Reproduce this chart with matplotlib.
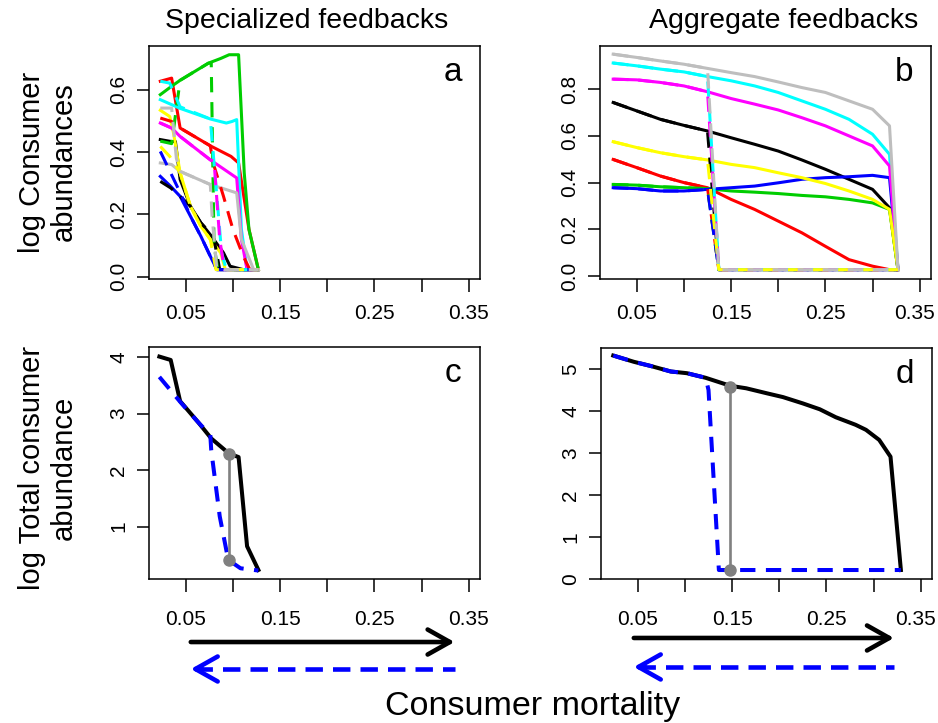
import matplotlib
matplotlib.use("Agg")
import matplotlib.pyplot as plt
import matplotlib.transforms as mtransforms
from matplotlib.lines import Line2D

plt.rcParams.update({
    "font.family": ["Liberation Sans", "DejaVu Sans"],
    "axes.linewidth": 1.1,
})

COL = {"black": "#000000", "red": "#FF0000", "green": "#00CD00", "blue": "#0000FF",
       "cyan": "#00FFFF", "magenta": "#FF00FF", "yellow": "#FFFF00", "gray": "#BEBEBE"}
ORDER = ["black", "red", "green", "blue", "cyan", "magenta", "yellow", "gray"]

# ---- panel a: specialized feedbacks, per-consumer abundances (solid = forward, dashed = backward)
a_black_x = [0.023, 0.034, 0.039, 0.044, 0.055, 0.066, 0.076, 0.090, 0.097, 0.111, 0.127]
a_black_y = [0.440, 0.434, 0.434, 0.312, 0.226, 0.173, 0.135, 0.077, 0.034, 0.023, 0.023]
a_black_dx = [0.023, 0.034, 0.044, 0.055, 0.066, 0.076, 0.080, 0.086, 0.127]
a_black_dy = [0.306, 0.285, 0.258, 0.226, 0.173, 0.141, 0.120, 0.023, 0.023]
a_red_x = [0.023, 0.035, 0.044, 0.076, 0.098, 0.106, 0.117, 0.127]
a_red_y = [0.627, 0.637, 0.477, 0.420, 0.386, 0.365, 0.152, 0.023]
a_red_dx = [0.023, 0.035, 0.044, 0.076, 0.079, 0.090, 0.100, 0.111, 0.118, 0.127]
a_red_dy = [0.509, 0.498, 0.477, 0.420, 0.365, 0.258, 0.152, 0.066, 0.023, 0.023]
a_green_x = [0.023, 0.035, 0.044, 0.074, 0.087, 0.096, 0.106, 0.112, 0.117, 0.127]
a_green_y = [0.584, 0.611, 0.630, 0.685, 0.700, 0.712, 0.712, 0.333, 0.152, 0.023]
a_green_dx = [0.023, 0.035, 0.044, 0.074, 0.077, 0.080, 0.084, 0.127]
a_green_dy = [0.435, 0.427, 0.630, 0.685, 0.685, 0.100, 0.023, 0.023]
a_blue_x = [0.023, 0.034, 0.044, 0.055, 0.066, 0.076, 0.083, 0.127]
a_blue_y = [0.322, 0.290, 0.258, 0.194, 0.130, 0.066, 0.023, 0.023]
a_blue_dx = [0.023, 0.034, 0.044, 0.055, 0.066, 0.076, 0.083, 0.127]
a_blue_dy = [0.402, 0.333, 0.270, 0.194, 0.130, 0.066, 0.023, 0.023]
a_cyan_x = [0.023, 0.044, 0.076, 0.093, 0.099, 0.104, 0.109, 0.115, 0.127]
a_cyan_y = [0.568, 0.540, 0.506, 0.493, 0.498, 0.504, 0.152, 0.023, 0.023]
a_cyan_dx = [0.023, 0.033, 0.044, 0.076, 0.088, 0.093, 0.127]
a_cyan_dy = [0.627, 0.621, 0.545, 0.506, 0.077, 0.023, 0.023]
a_magenta_x = [0.023, 0.035, 0.044, 0.076, 0.104, 0.109, 0.115, 0.127]
a_magenta_y = [0.493, 0.477, 0.450, 0.375, 0.317, 0.120, 0.023, 0.023]
a_magenta_dx = [0.023, 0.035, 0.044, 0.076, 0.080, 0.086, 0.091, 0.127]
a_magenta_dy = [0.493, 0.477, 0.450, 0.375, 0.370, 0.120, 0.023, 0.023]
a_yellow_x = [0.023, 0.033, 0.037, 0.044, 0.055, 0.066, 0.076, 0.087, 0.092, 0.127]
a_yellow_y = [0.534, 0.514, 0.461, 0.333, 0.226, 0.162, 0.120, 0.077, 0.023, 0.023]
a_yellow_dx = [0.023, 0.033, 0.044, 0.055, 0.066, 0.076, 0.082, 0.127]
a_yellow_dy = [0.418, 0.386, 0.333, 0.226, 0.162, 0.120, 0.023, 0.023]
a_gray_x = [0.023, 0.035, 0.044, 0.076, 0.104, 0.109, 0.122, 0.127]
a_gray_y = [0.365, 0.360, 0.338, 0.296, 0.269, 0.120, 0.023, 0.023]
a_gray_dx = [0.023, 0.035, 0.040, 0.044, 0.076, 0.078, 0.083, 0.127]
a_gray_dy = [0.541, 0.541, 0.380, 0.338, 0.296, 0.190, 0.023, 0.023]

# ---- panel b: aggregate feedbacks, forward path on a shared mortality grid
b_x = [0.025, 0.05, 0.075, 0.10, 0.125, 0.15, 0.175, 0.20, 0.225, 0.25, 0.275, 0.30, 0.318, 0.327]
b_black = [0.743, 0.707, 0.671, 0.645, 0.621, 0.592, 0.564, 0.535, 0.497, 0.457, 0.414, 0.371, 0.292, 0.027]
b_red = [0.499, 0.464, 0.428, 0.400, 0.378, 0.328, 0.285, 0.235, 0.185, 0.127, 0.070, 0.042, 0.027, 0.027]
b_green = [0.392, 0.389, 0.382, 0.378, 0.374, 0.364, 0.359, 0.353, 0.345, 0.339, 0.328, 0.313, 0.285, 0.027]
b_blue = [0.378, 0.374, 0.364, 0.364, 0.371, 0.378, 0.385, 0.399, 0.414, 0.421, 0.425, 0.431, 0.421, 0.027]
b_cyan = [0.912, 0.900, 0.886, 0.874, 0.854, 0.836, 0.814, 0.786, 0.750, 0.714, 0.671, 0.607, 0.521, 0.027]
b_magenta = [0.843, 0.840, 0.829, 0.814, 0.789, 0.760, 0.736, 0.711, 0.678, 0.643, 0.600, 0.557, 0.471, 0.027]
b_yellow = [0.575, 0.550, 0.528, 0.511, 0.497, 0.478, 0.464, 0.442, 0.421, 0.396, 0.364, 0.328, 0.285, 0.027]
b_gray = [0.950, 0.936, 0.921, 0.907, 0.889, 0.871, 0.854, 0.831, 0.807, 0.786, 0.750, 0.714, 0.643, 0.027]
# backward path: same as forward up to the tipping point, then collapse
b_tip = 0.125
b_collapse_x = [0.137, 0.327]
b_floor = 0.027

# ---- panel c: specialized, total abundance
c_fwd_x = [0.022, 0.034, 0.044, 0.063, 0.077, 0.096, 0.106, 0.115, 0.127]
c_fwd_y = [4.01, 3.95, 3.22, 2.85, 2.56, 2.29, 2.23, 0.65, 0.23]
c_bwd_x = [0.022, 0.044, 0.063, 0.076, 0.077, 0.086, 0.095, 0.108, 0.127]
c_bwd_y = [3.65, 3.21, 2.85, 2.62, 2.35, 1.18, 0.41, 0.26, 0.22]
c_gap_x = 0.096
c_gap_y = [2.29, 0.41]

# ---- panel d: aggregate, total abundance
d_fwd_x = [0.024, 0.046, 0.064, 0.085, 0.102, 0.122, 0.148, 0.165, 0.187, 0.204,
           0.225, 0.243, 0.260, 0.281, 0.292, 0.306, 0.318, 0.329]
d_fwd_y = [5.32, 5.17, 5.07, 4.94, 4.90, 4.79, 4.60, 4.54, 4.42, 4.33,
           4.18, 4.04, 3.85, 3.67, 3.55, 3.31, 2.91, 0.21]
d_bwd_x = [0.024, 0.046, 0.064, 0.085, 0.102, 0.122, 0.125, 0.136, 0.329]
d_bwd_y = [5.32, 5.17, 5.07, 4.94, 4.90, 4.79, 4.50, 0.21, 0.21]
d_gap_x = 0.148
d_gap_y = [4.58, 0.21]

XTICKS = [0.05, 0.10, 0.15, 0.20, 0.25, 0.30, 0.35]
XTICKLABELS = ["0.05", "", "0.15", "", "0.25", "", "0.35"]
XLIM = (0.011, 0.362)

W, H = 938, 723
fig = plt.figure(figsize=(W / 100, H / 100), dpi=100)


def box(l, t, r, b):
    return [l / W, 1 - b / H, (r - l) / W, (b - t) / H]


axa = fig.add_axes(box(149, 46, 480, 279))
axb = fig.add_axes(box(600, 46, 931, 279))
axc = fig.add_axes(box(149, 347, 480, 579))
axd = fig.add_axes(box(601, 348, 932, 579))


def style(ax, ylim, yticks, ylabels, letter, xpad=9, nudge_last=False):
    ax.set_xlim(XLIM)
    ax.set_ylim(ylim)
    ax.set_xticks(XTICKS)
    ax.set_xticklabels(XTICKLABELS)
    ax.set_yticks(yticks)
    ax.set_yticklabels(ylabels, rotation=90, va="center")
    ax.tick_params(length=9, width=1.1, labelsize=15)
    ax.tick_params(axis="x", pad=xpad)
    ax.tick_params(axis="y", pad=6)
    if nudge_last:
        # keep the right-most label inside the figure edge
        lab = ax.get_xticklabels()[-1]
        lab.set_transform(lab.get_transform() + mtransforms.ScaledTranslation(
            -5 / 100, 0, fig.dpi_scale_trans))
    ax.text(0.918, 0.85, letter, transform=ax.transAxes, ha="center",
            va="baseline", fontsize=24)


LW = 2.2
DASH = (5, 3.2)
a_data = {
    "black": (a_black_x, a_black_y, a_black_dx, a_black_dy),
    "red": (a_red_x, a_red_y, a_red_dx, a_red_dy),
    "green": (a_green_x, a_green_y, a_green_dx, a_green_dy),
    "blue": (a_blue_x, a_blue_y, a_blue_dx, a_blue_dy),
    "cyan": (a_cyan_x, a_cyan_y, a_cyan_dx, a_cyan_dy),
    "magenta": (a_magenta_x, a_magenta_y, a_magenta_dx, a_magenta_dy),
    "yellow": (a_yellow_x, a_yellow_y, a_yellow_dx, a_yellow_dy),
    "gray": (a_gray_x, a_gray_y, a_gray_dx, a_gray_dy),
}
for c in ORDER:
    x, y, _, _ = a_data[c]
    axa.plot(x, y, color=COL[c], lw=LW, solid_joinstyle="round")
for c in ORDER:
    _, _, dx, dy = a_data[c]
    axa.plot(dx, dy, color=COL[c], lw=LW, ls=(0, DASH))
style(axa, (-0.007, 0.74), [0.0, 0.2, 0.4, 0.6], ["0.0", "0.2", "0.4", "0.6"], "a")

b_data = {"black": b_black, "red": b_red, "green": b_green, "blue": b_blue,
          "cyan": b_cyan, "magenta": b_magenta, "yellow": b_yellow, "gray": b_gray}
for c in ORDER:
    axb.plot(b_x, b_data[c], color=COL[c], lw=LW)
for c in ORDER:
    keep = [i for i, v in enumerate(b_x) if v <= b_tip]
    bx = [b_x[i] for i in keep] + b_collapse_x
    by = [b_data[c][i] for i in keep] + [b_floor] * len(b_collapse_x)
    axb.plot(bx, by, color=COL[c], lw=LW, ls=(0, DASH))
style(axb, (-0.013, 0.985), [0.0, 0.2, 0.4, 0.6, 0.8],
      ["0.0", "0.2", "0.4", "0.6", "0.8"], "b", nudge_last=True)

TLW = 2.9
for ax, fx, fy, bx, by, gx, gy in [
        (axc, c_fwd_x, c_fwd_y, c_bwd_x, c_bwd_y, c_gap_x, c_gap_y),
        (axd, d_fwd_x, d_fwd_y, d_bwd_x, d_bwd_y, d_gap_x, d_gap_y)]:
    ax.plot(fx, fy, color="black", lw=TLW)
    ax.plot(bx, by, color="#0000FF", lw=TLW, ls=(0, (3.8, 2.6)))
    ax.plot([gx, gx], gy, color="#808080", lw=1.9, marker="o", ms=8,
            markeredgecolor="#808080")
style(axc, (0.07, 4.18), [1, 2, 3, 4], ["1", "2", "3", "4"], "c", xpad=13)
style(axd, (-0.004, 5.5), [0, 1, 2, 3, 4, 5], ["0", "1", "2", "3", "4", "5"], "d",
      xpad=13, nudge_last=True)

# direction arrows under the bottom panels
arrows = [(axc, 0.0553, 0.335, 0.112, 0.0747), (axd, 0.0458, 0.3216, 0.1176, 0.0775)]
for ax, x0, x1, yb, yl in arrows:
    ap = dict(arrowstyle="->,head_length=0.8,head_width=0.45", lw=3.3,
              color="black", shrinkA=0, shrinkB=0, mutation_scale=20)
    ax.annotate("", xy=(x1, yb), xytext=(x0, yb),
                xycoords=("data", "figure fraction"), arrowprops=ap,
                annotation_clip=False)
    ln = Line2D([x0 + 0.004, x1], [yl, yl], color="#0000FF", lw=3.3,
                ls=(0, (3.8, 2.2)),
                transform=mtransforms.blended_transform_factory(
                    ax.transData, fig.transFigure))
    ln.set_clip_on(False)
    fig.add_artist(ln)
    apb = dict(ap, color="#0000FF")
    ax.annotate("", xy=(x0, yl), xytext=(x0 + 0.012, yl),
                xycoords=("data", "figure fraction"), arrowprops=apb,
                annotation_clip=False)

fig.text(307 / W, 1 - 28 / H, "Specialized feedbacks", ha="center",
         va="baseline", fontsize=20.5)
fig.text(784 / W, 1 - 28 / H, "Aggregate feedbacks", ha="center",
         va="baseline", fontsize=20.5)
fig.text(48 / W, 1 - 162 / H, "log Consumer\nabundances", rotation=90,
         ha="center", va="center", fontsize=21, linespacing=1.2)
fig.text(48 / W, 1 - 468 / H, "log Total consumer\nabundance", rotation=90,
         ha="center", va="center", fontsize=21, linespacing=1.2)
fig.text(533 / W, 1 - 715 / H, "Consumer mortality", ha="center",
         va="baseline", fontsize=24.5)

fig.savefig("out.png", dpi=100)
